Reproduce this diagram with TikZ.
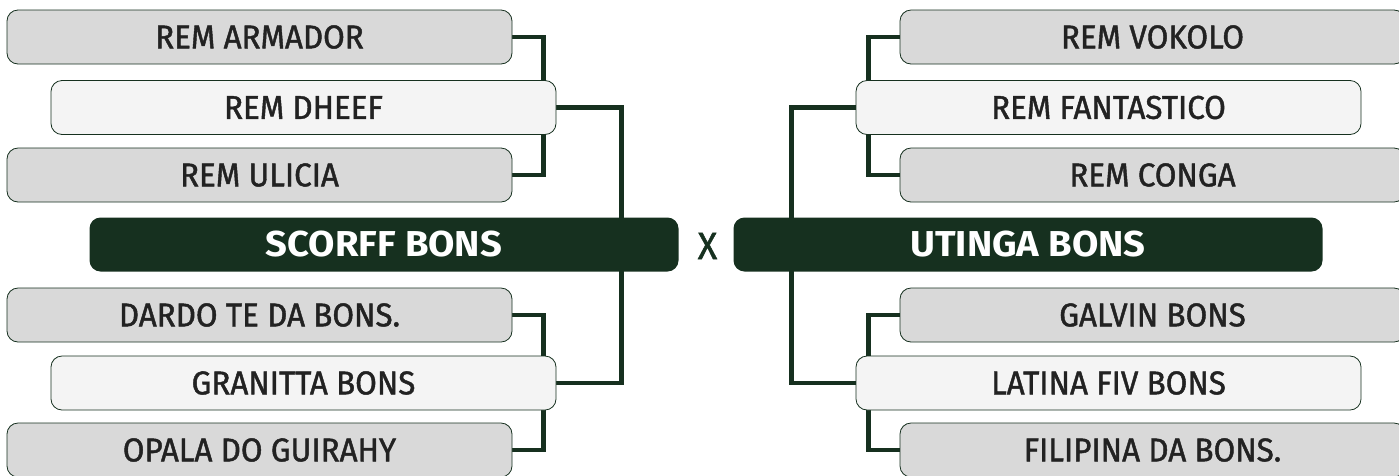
\documentclass[tikz,border=0pt]{standalone}
\usepackage{fontspec}
\newfontfamily\boxfont{Fira Sans}[FakeStretch=0.95, FakeBold=1.3]
\newfontfamily\teamfont{Fira Sans}[FakeStretch=1.06, BoldFeatures={FakeStretch=1.06}]
\usetikzlibrary{backgrounds}
\definecolor{dkgreen}{HTML}{16301F}
\definecolor{boxgray}{HTML}{D9D9D9}
\definecolor{boxwhite}{HTML}{F4F4F4}
\definecolor{txt}{HTML}{222222}
\tikzset{
  entry/.style={draw=dkgreen, line width=0.8pt, rounded corners=11pt, minimum width=505pt, minimum height=54pt, inner sep=0pt, text=txt, font=\boxfont\fontsize{33}{36}\selectfont},
  grayentry/.style={entry, fill=boxgray},
  whiteentry/.style={entry, fill=boxwhite},
  team/.style={fill=dkgreen, rounded corners=11pt, minimum width=589pt, minimum height=54pt, inner sep=0pt, text=white, font=\teamfont\bfseries\fontsize{36}{40}\selectfont},
  conn/.style={draw=dkgreen, line width=4.5pt, line join=miter},
}
\begin{document}
\begin{tikzpicture}[x=1pt,y=-1pt]
\useasboundingbox (0,0) rectangle (1399,475);
\clip (0,0) rectangle (1399,475);
% left side
\node[grayentry] (armador) at (259.5,37) {REM ARMADOR};
\node[whiteentry] (dheef) at (303.5,107.5) {REM DHEEF};
\node[grayentry] (ulicia) at (259.5,175) {REM ULICIA};
\node[team] (scorff) at (384,244.5) {SCORFF BONS};
\node[grayentry] (dardo) at (259.5,315) {DARDO TE DA BONS.};
\node[whiteentry] (granitta) at (303.5,383) {GRANITTA BONS};
\node[grayentry] (opala) at (259.5,450) {OPALA DO GUIRAHY};
% middle
\node[text=dkgreen, font=\boxfont\fontsize{38}{40}\selectfont, inner sep=0pt] (vs) at (707.5,246) {X};
% right side
\node[team] (utinga) at (1028,244.5) {UTINGA BONS};
\node[grayentry] (vokolo) at (1152.5,37) {REM VOKOLO};
\node[whiteentry] (fantastico) at (1108.5,107.5) {REM FANTASTICO};
\node[grayentry] (conga) at (1152.5,175) {REM CONGA};
\node[grayentry] (galvin) at (1152.5,315) {GALVIN BONS};
\node[whiteentry] (latina) at (1108.5,383) {LATINA FIV BONS};
\node[grayentry] (filipina) at (1152.5,450) {FILIPINA DA BONS.};
\begin{scope}[on background layer]
\draw[conn] (armador.east) -- ++(31,0) |- (ulicia.east);
\draw[conn] (dheef.east) -- ++(65,0) |- (granitta.east);
\draw[conn] (dardo.east) -- ++(31,0) |- (opala.east);
\draw[conn] (vokolo.west) -- ++(-31,0) |- (conga.west);
\draw[conn] (fantastico.west) -- ++(-64,0) |- (latina.west);
\draw[conn] (galvin.west) -- ++(-31,0) |- (filipina.west);
\end{scope}
\end{tikzpicture}
\end{document}
